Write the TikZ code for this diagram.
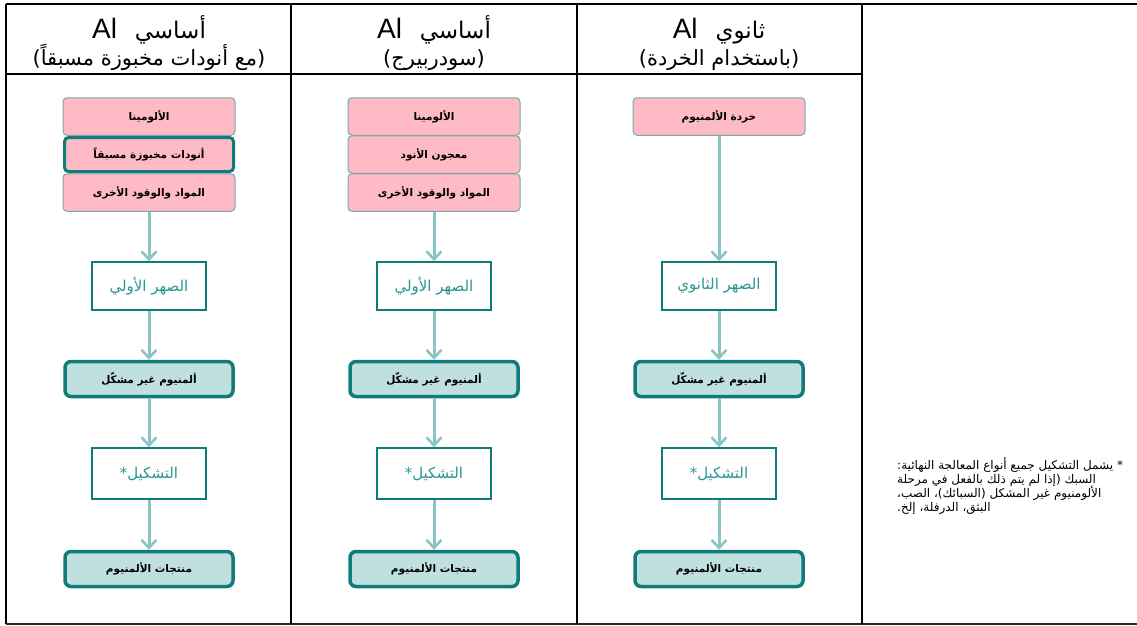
\documentclass[tikz,border=0pt]{standalone}
\usepackage{fontspec}
\setmainfont{Liberation Sans}
\newfontfamily\arabicfont[Script=Arabic]{DejaVu Sans}
\TeXXeTstate=1
\usetikzlibrary{arrows.meta}

\definecolor{pinkfill}{RGB}{255,187,197}
\definecolor{pinkline}{RGB}{118,168,168}
\definecolor{tealdark}{RGB}{16,124,122}
\definecolor{tealfill}{RGB}{192,224,224}
\definecolor{tealarrow}{RGB}{138,196,196}
\definecolor{tealtext}{RGB}{40,150,146}
\definecolor{rulegrey}{RGB}{40,40,40}

% right-to-left Arabic run
\newcommand{\artext}[1]{{\arabicfont\beginR #1\endR}}
% header first line: Arabic word followed by the Latin symbol
\newcommand{\headline}[1]{{\arabicfont\beginR{\fontsize{23}{30}\selectfont #1}\ \ \beginL{\rmfamily Al}\endL\endR}}

\tikzset{
  feed/.style={draw=pinkline, line width=1pt, fill=pinkfill, rounded corners=4pt,
    minimum width=172pt, minimum height=37.5pt, inner sep=0pt,
    font=\bfseries\fontsize{10.5}{12}\selectfont},
  feedkey/.style={feed, draw=tealdark, line width=3pt, minimum width=169pt, minimum height=34pt},
  stage/.style={draw=tealdark, line width=1.6pt, fill=white, inner sep=0pt,
    minimum width=114pt, text=tealtext, font=\fontsize{15}{17}\selectfont},
  metal/.style={draw=tealdark, line width=3.5pt, fill=tealfill, rounded corners=6pt,
    minimum width=168pt, minimum height=35pt, inner sep=0pt,
    font=\bfseries\fontsize{10.5}{12}\selectfont},
  flow/.style={draw=tealarrow, line width=3pt,
    -{Straight Barb[length=8pt,width=15pt,line width=2.6pt]}},
  headA/.style={anchor=base, font=\fontsize{28}{30}\selectfont, inner sep=0pt},
  headB/.style={anchor=base, font=\fontsize{21}{24}\selectfont, inner sep=0pt},
  note/.style={anchor=base west, inner sep=0pt, font=\fontsize{12}{14}\selectfont},
  rule/.style={draw=black, line width=1.3pt}
}

\begin{document}
\begin{tikzpicture}[x=1pt, y=-1pt]
\useasboundingbox (0,0) rectangle (1137,626);

% table frame
\draw[rule] (6,4) -- (1140,4);
\draw[rule] (6,4) -- (6,624);
\draw[rule, draw=rulegrey] (6,624) -- (1140,624);
\draw[rule] (6,74) -- (862,74);
\draw[rule] (291,4) -- (291,624);
\draw[rule] (577,4) -- (577,624);
\draw[rule] (862,4) -- (862,624);

% column headers
\node[headA] (h1a) at (149,38) {\headline{أساسي}};
\node[headB] (h1b) at (149,66) {\artext{(مع أنودات مخبوزة مسبقاً)}};
\node[headA] (h2a) at (434,38) {\headline{أساسي}};
\node[headB] (h2b) at (434,66) {\artext{(سودربيرج)}};
\node[headA] (h3a) at (719,38) {\headline{ثانوي}};
\node[headB] (h3b) at (719,66) {\artext{(باستخدام الخردة)}};

% column 1: primary, prebaked anodes
\node[feed] (a1) at (149,116.5) {\artext{الألومينا}};
\node[feed] (a3) at (149,192.5) {\artext{المواد والوقود الأخرى}};
\node[feedkey] (a2) at (149,154.5) {\artext{أنودات مخبوزة مسبقاً}};
\node[stage, minimum height=48pt] (a4) at (149,286) {\artext{الصهر الأولي}};
\node[metal] (a5) at (149,379) {\artext{ألمنيوم غير مشكّل}};
\node[stage, minimum height=51pt] (a6) at (149,473.5) {\artext{التشكيل*}};
\node[metal] (a7) at (149,569) {\artext{منتجات الألمنيوم}};
\draw[flow] (a3.south) -- (a4.north);
\draw[flow] (a4.south) -- (a5.north);
\draw[flow] (a5.south) -- (a6.north);
\draw[flow] (a6.south) -- (a7.north);

% column 2: primary, Soderberg
\node[feed] (b1) at (434,116.5) {\artext{الألومينا}};
\node[feed] (b2) at (434,154.5) {\artext{معجون الأنود}};
\node[feed] (b3) at (434,192.5) {\artext{المواد والوقود الأخرى}};
\node[stage, minimum height=48pt] (b4) at (434,286) {\artext{الصهر الأولي}};
\node[metal] (b5) at (434,379) {\artext{ألمنيوم غير مشكّل}};
\node[stage, minimum height=51pt] (b6) at (434,473.5) {\artext{التشكيل*}};
\node[metal] (b7) at (434,569) {\artext{منتجات الألمنيوم}};
\draw[flow] (b3.south) -- (b4.north);
\draw[flow] (b4.south) -- (b5.north);
\draw[flow] (b5.south) -- (b6.north);
\draw[flow] (b6.south) -- (b7.north);

% column 3: secondary, from scrap
\node[feed] (c1) at (719,116.5) {\artext{خردة الألمنيوم}};
\node[stage, minimum height=48pt] (c4) at (719,286) {\artext{الصهر الثانوي}};
\node[metal] (c5) at (719,379) {\artext{ألمنيوم غير مشكّل}};
\node[stage, minimum height=51pt] (c6) at (719,473.5) {\artext{التشكيل*}};
\node[metal] (c7) at (719,569) {\artext{منتجات الألمنيوم}};
\draw[flow] (c1.south) -- (c4.north);
\draw[flow] (c4.south) -- (c5.north);
\draw[flow] (c5.south) -- (c6.north);
\draw[flow] (c6.south) -- (c7.north);

% footnote
\node[note] (n1) at (897,469) {\artext{* يشمل التشكيل جميع أنواع المعالجة النهائية:}};
\node[note] (n2) at (897,483) {\artext{السبك (إذا لم يتم ذلك بالفعل في مرحلة}};
\node[note] (n3) at (897,497) {\artext{الألومنيوم غير المشكل (السبائك)، الصب،}};
\node[note] (n4) at (897,511) {\artext{البثق، الدرفلة، إلخ.}};
\end{tikzpicture}
\end{document}
